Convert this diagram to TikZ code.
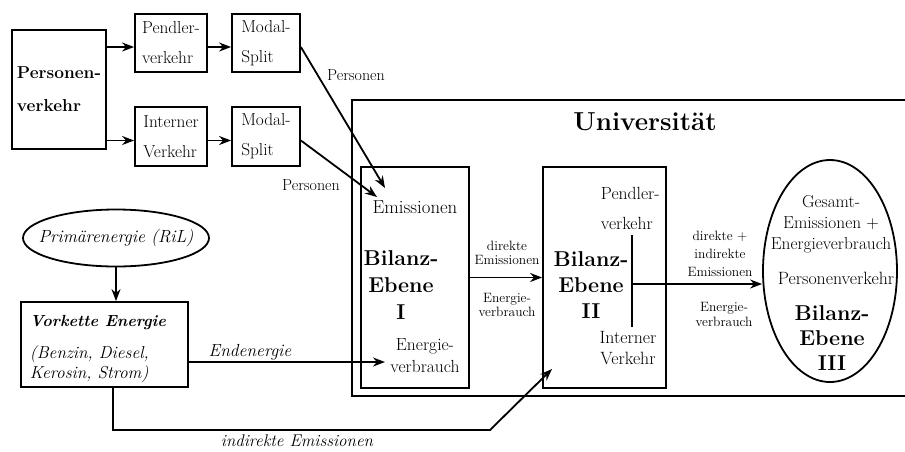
\documentclass[tikz,border=0pt]{standalone}
\usepackage{tikz}
\usetikzlibrary{arrows.meta,shapes.geometric}

\newcommand{\fs}[2]{\fontsize{#1}{#2}\selectfont}
\tikzset{
	box/.style={draw,line width=1.8pt,inner sep=0pt},
	lbl/.style={inner sep=0pt,align=center},
}

\begin{document}
\begin{tikzpicture}[x=1pt,y=-1pt,line width=1.8pt,>={Stealth[length=12pt,width=9pt]}]
			\useasboundingbox (0,0) rectangle (905,451);
			
			\node[box,minimum width=94,minimum height=119,font=\fs{17.3}{33}\bfseries,align=left] (pv) at (59,89.5) {Personen-\\verkehr};
			\node[box,minimum width=72,minimum height=58,font=\fs{17.3}{30},align=left] (pend) at (171,43) {Pendler-\\verkehr};
			\node[box,minimum width=68,minimum height=58,font=\fs{17.3}{30},align=left] (ms1) at (266,43) {Modal-\\Split};
			\node[box,minimum width=72,minimum height=59,font=\fs{17.3}{30},align=left] (int) at (171,136.5) {Interner\\Verkehr};
			\node[box,minimum width=68,minimum height=59,font=\fs{17.3}{30},align=left] (ms2) at (266,136.5) {Modal-\\Split};
			
			\draw[->] ([yshift=-4pt]pv.east |- pend) -- ([yshift=-4pt]pend.west);
			\draw[->] ([yshift=-4pt]pv.east |- int) -- ([yshift=-4pt]int.west);
			\draw[->] ([yshift=-4pt]pend.east) -- ([yshift=-4pt]ms1.west);
			\draw[->] ([yshift=-4pt]int.east) -- ([yshift=-4pt]ms2.west);
			
			\draw[line width=2pt] (905,100) -| (352,396) -- (905,396);
			\node[lbl,font=\fs{26}{28}\bfseries] (uni) at (645,122) {Universität};
			
			\node[box,minimum width=108,minimum height=221] (b1) at (415,277.5) {};
			\node[box,minimum width=123,minimum height=221] (b2) at (604.5,277.5) {};
			\node[draw,ellipse,minimum width=134,minimum height=222,inner sep=0pt] (b3) at (830,271) {};
			
			\node[lbl,font=\fs{18.8}{20}] (em1) at (415,207) {Emissionen};
			\node[lbl,font=\fs{21.5}{27}\bfseries] (be1) at (401,285) {Bilanz-\\Ebene\\I};
			\node[lbl,font=\fs{17.5}{22}] (ev1) at (425,356) {Energie-\\verbrauch};
			
			\node[lbl,align=left,anchor=west,font=\fs{17.6}{30}] (pv2) at (600,208) {Pendler-\\verkehr};
			\node[lbl,font=\fs{21.5}{26}\bfseries] (be2) at (591,285) {Bilanz-\\Ebene\\II};
			\node[lbl,font=\fs{17.8}{21}] (iv2) at (628,348) {Interner\\Verkehr};
			
			\node[lbl,font=\fs{17.3}{21}] (ge) at (831,224) {Gesamt-\\Emissionen +\\Energieverbrauch};
			\node[lbl,font=\fs{17.8}{20}] (pvk) at (836,278) {Personenverkehr};
			\node[lbl,font=\fs{21.5}{25}\bfseries] (be3) at (832,338) {Bilanz-\\Ebene\\III};
			
			\draw[->] (b1.east) -- (b2.west);
			\node[lbl,font=\fs{13.5}{14}] (de) at (507,253) {direkte\\Emissionen};
			\node[lbl,font=\fs{13.5}{14}] (ev12) at (507,305) {Energie-\\verbrauch};
			
			\coordinate (vt) at (632,235);
			\coordinate (vb) at (632,327);
			\coordinate (vm) at (632,284);
			\draw (vt) -- (vb);
			\draw[->] (vm) -- (vm -| b3.west);
			\node[lbl,font=\fs{13.5}{18}] (die) at (720,254) {direkte +\\indirekte\\Emissionen};
			\node[lbl,font=\fs{13.5}{15}] (ev23) at (724,314) {Energie-\\verbrauch};
			
			\coordinate (p1) at (385,188);
			\coordinate (p2) at (377,197);
			\draw[->] ([yshift=-4pt]ms1.east) -- (p1);
			\draw[->] ([yshift=-4pt]ms2.east) -- (p2);
			\node[lbl,font=\fs{16}{16}] (pl1) at (356,75) {Personen};
			\node[lbl,font=\fs{16}{16}] (pl2) at (311,185) {Personen};
			
			\node[draw,ellipse,minimum width=186,minimum height=57,inner sep=0pt] (prim) at (116,238) {};
			\node[lbl,font=\fs{17.6}{20}\itshape] (primtxt) at (prim) {Primärenergie (RiL)};
			\node[box,minimum width=167,minimum height=85] (vk) at (104.5,344.5) {};
			\node[lbl,anchor=west,font=\fs{16.1}{20}\bfseries\itshape] (vkt) at (29,323) {Vorkette Energie};
			\node[lbl,anchor=west,align=left,font=\fs{17.3}{20}\itshape] (vkb) at (29,364) {(Benzin, Diesel,\\Kerosin, Strom)};
			\draw[->] (prim.south) -- (prim.south |- vk.north);
			
			\coordinate (ee) at (385,362);
			\draw[->] (vk.east |- ee) -- (ee);
			\node[lbl,font=\fs{17.5}{18}\itshape] (enl) at (250,352) {Endenergie};
			
			\coordinate (ie1) at (113,430);
			\coordinate (ie2) at (490,430);
			\coordinate (ie3) at (552,369);
			\draw[->] (vk.south -| ie1) -- (ie1) -- (ie2) -- (ie3);
			\node[lbl,font=\fs{17}{17}\itshape] (iel) at (297,441) {indirekte Emissionen};
		\end{tikzpicture}
\end{document}
